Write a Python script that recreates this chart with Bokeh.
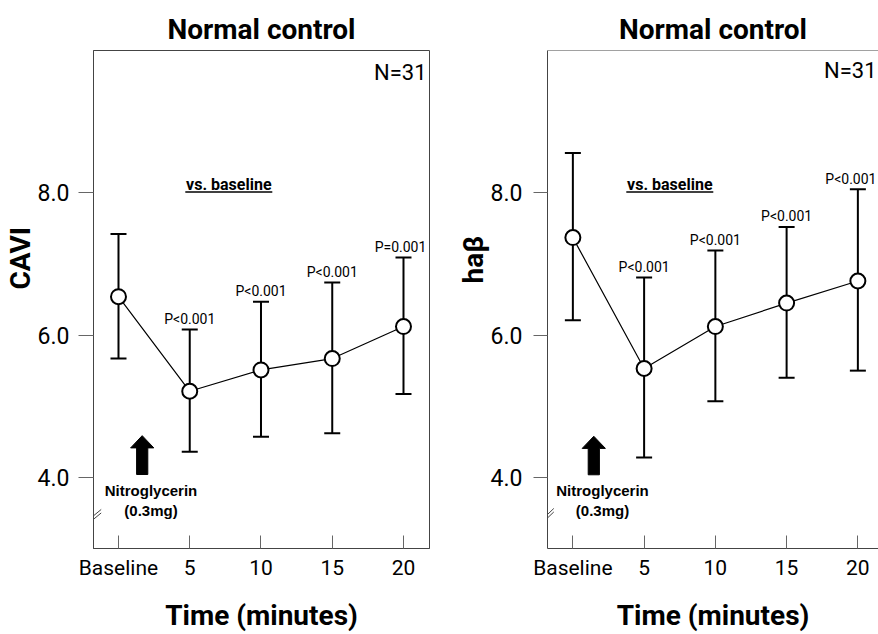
from bokeh.plotting import figure
from bokeh.layouts import row
from bokeh.models import (ColumnDataSource, Whisker, TeeHead, Label, FixedTicker,
                          Range1d, Span, Arrow, CustomJSTickFormatter, Title)
from bokeh.core.properties import value
from bokeh.embed import file_html
from bokeh.resources import INLINE

# ---------------- data ----------------
times = [0, 5, 10, 15, 20]
time_labels = ["Baseline", "5", "10", "15", "20"]

cavi_mean = [6.54, 5.21, 5.51, 5.67, 6.12]
cavi_upper = [7.42, 6.08, 6.47, 6.74, 7.09]
cavi_lower = [5.67, 4.36, 4.57, 4.62, 5.17]
cavi_p = ["", "P<0.001", "P<0.001", "P<0.001", "P=0.001"]

hab_mean = [7.37, 5.53, 6.12, 6.45, 6.76]
hab_upper = [8.56, 6.81, 7.19, 7.52, 8.05]
hab_lower = [6.21, 4.28, 5.07, 5.40, 5.50]
hab_p = ["", "P<0.001", "P<0.001", "P<0.001", "P<0.001"]

y_ticks = [4.0, 6.0, 8.0]
panel_title = "Normal control"
n_label = "N=31"
x_title = "Time (minutes)"
vs_text = "vs. baseline"
drug_lines = ["Nitroglycerin", "(0.3mg)"]

# ---------------- layout constants ----------------
FONT = "Roboto"
FONT2 = "Liberation Sans"
PX_X = 14.25
PX_Y = 500 / 7.0
TOP, FRAME_H, BOTTOM = 50, 500, 84
HEIGHT = TOP + FRAME_H + BOTTOM
FRAME_COL = "#444444"
TICK_COL = "#666666"


def make_panel(ylab, mean, upper, lower, plabels, fig_left_page, border_left,
               frame_w, border_right, x0, outline, lay):
    width = border_left + frame_w + border_right
    x1 = x0 + frame_w / PX_X
    frame_left_page = fig_left_page + border_left
    bx = frame_left_page - x0 * PX_X  # page x of baseline tick

    def X(px):
        return (px - bx) / PX_X

    def Y(py):
        return 10 - (py - TOP) / PX_Y

    p = figure(width=width, height=HEIGHT, x_range=Range1d(x0, x1),
               y_range=Range1d(3.0, 10.0), output_backend="svg",
               toolbar_location=None, min_border_left=border_left,
               min_border_right=border_right, min_border_top=TOP,
               min_border_bottom=BOTTOM)
    p.grid.visible = False
    p.background_fill_color = "white"
    p.border_fill_color = "white"
    if outline:
        p.outline_line_color = FRAME_COL
        p.outline_line_width = 1
    else:
        p.outline_line_color = None
        p.add_layout(Span(location=10.0, dimension="width",
                          line_color=FRAME_COL, line_width=1))

    # title
    p.title.text = panel_title
    p.title.align = "center"
    p.title.text_font = FONT
    p.title.text_font_size = "28px"
    p.title.text_font_style = "bold"
    p.title.text_color = "black"
    p.title.standoff = 9

    # x axis
    p.xaxis.ticker = FixedTicker(ticks=times)
    p.xaxis.major_label_overrides = {t: l for t, l in zip(times, time_labels)}
    p.xaxis.major_tick_in = 13
    p.xaxis.major_tick_out = 0
    p.xaxis.minor_tick_line_color = None
    p.xaxis.major_tick_line_color = TICK_COL
    p.xaxis.axis_line_color = FRAME_COL
    p.xaxis.major_label_standoff = 7
    p.xaxis.major_label_text_font = FONT
    p.xaxis.major_label_text_font_size = "21px"
    p.xaxis.major_label_text_color = "black"
    p.xaxis.axis_label = x_title
    p.xaxis.axis_label_text_font = FONT
    p.xaxis.axis_label_text_font_size = "28px"
    p.xaxis.axis_label_text_font_style = "bold"
    p.xaxis.axis_label_text_color = "black"
    p.xaxis.axis_label_standoff = 16

    # y axis
    p.yaxis.ticker = FixedTicker(ticks=y_ticks)
    p.yaxis.formatter = CustomJSTickFormatter(code="return tick.toFixed(1)")
    p.yaxis.major_tick_in = 0
    p.yaxis.major_tick_out = lay["ytick"]
    p.yaxis.minor_tick_line_color = None
    p.yaxis.major_tick_line_color = TICK_COL
    p.yaxis.axis_line_color = FRAME_COL
    p.yaxis.major_label_standoff = lay["ystand"]
    p.yaxis.major_label_text_font = FONT
    p.yaxis.major_label_text_font_size = "23px"
    p.yaxis.major_label_text_color = "black"

    # y-axis title, outside the tick labels, starting lay["yoff"] px above
    # the bottom of the frame (reads bottom-to-top)
    p.add_layout(Title(text=ylab, align="left", offset=lay["yoff"], standoff=-5,
                       text_font=FONT, text_font_size="28px",
                       text_font_style="bold", text_color="black"), "left")

    src = ColumnDataSource(dict(x=times, mean=mean, upper=upper, lower=lower))
    w = Whisker(source=src, base="x", upper="upper", lower="lower",
                dimension="height", line_width=2, line_color="black",
                upper_head=TeeHead(size=16, line_width=2, line_color="black"),
                lower_head=TeeHead(size=16, line_width=2, line_color="black"))
    w.level = "underlay"
    p.add_layout(w)
    p.line("x", "mean", source=src, line_color="black", line_width=1.2)
    p.scatter("x", "mean", source=src, size=15, fill_color="white",
              line_color="black", line_width=2)

    # p-value labels (cap centre ~10 px above the upper cap)
    idx = [i for i, s in enumerate(plabels) if s]
    psrc = ColumnDataSource(dict(
        x=[times[i] for i in idx],
        y=[upper[i] + 10.5 / PX_Y for i in idx],
        t=[plabels[i] for i in idx],
        dx=[lay["p_shift"][i] for i in idx]))
    p.text("x", "y", text="t", source=psrc, x_offset="dx", text_align="center",
           text_baseline="middle", text_font=value(FONT),
           text_font_size=value("14px"), text_color="black")

    def lab(text, px, py, align="center", size="16px", bold=False, font=FONT):
        p.add_layout(Label(x=X(px), y=Y(py), text=text, text_align=align,
                           text_baseline="middle", text_font=font,
                           text_font_size=size,
                           text_font_style="bold" if bold else "normal",
                           text_color="black"))

    lab(n_label, lay["n"][0], lay["n"][1], align="right", size="22px")
    lab(vs_text, lay["vs"], 184.5, size="16px", bold=True)
    # underline of "vs. baseline"
    p.segment(x0=[X(lay["vs"] - 43.5)], y0=[Y(192.0)],
              x1=[X(lay["vs"] + 43.5)], y1=[Y(192.0)],
              line_color="black", line_width=1.5)
    lab(drug_lines[0], lay["drug"], 491.5, size="15px", bold=True, font=FONT2)
    lab(drug_lines[1], lay["drug"], 511.5, size="15px", bold=True, font=FONT2)

    # block arrow
    cx, tip, hb, base = lay["arrow"]
    sw, hw = 5.6, 11.6
    xs = [X(cx), X(cx + hw), X(cx + sw), X(cx + sw), X(cx - sw), X(cx - sw),
          X(cx - hw)]
    ys = [Y(tip), Y(hb), Y(hb), Y(base), Y(base), Y(hb), Y(hb)]
    p.patch(xs, ys, fill_color="black", line_color="black", line_width=1)

    # axis break marks
    (bx0, by0), (bx1, by1) = lay["brk"]
    for d in (0.0, 3.5):
        p.add_layout(Arrow(x_start=X(bx0), y_start=Y(by0 - d),
                           x_end=X(bx1), y_end=Y(by1 - d), end=None,
                           line_color=FRAME_COL, line_width=1))
    return p


left_lay = dict(n=(426, 72.2), vs=228.3, drug=150.5,
                arrow=(141.7, 436.7, 449.0, 475.7),
                brk=((85, 527.3), (100.7, 514.3)), p_shift=[0, 0, 0, 0, -3],
                ytick=15, ystand=9, yoff=259)
right_lay = dict(n=(876, 69.7), vs=669.3, drug=602,
                 arrow=(593.3, 437.3, 449.5, 476.0),
                 brk=((538.3, 527.7), (553.3, 513.3)), p_shift=[0, 0, 0, 0, -7],
                 ytick=14, ystand=11, yoff=265)

p1 = make_panel("CAVI", cavi_mean, cavi_upper, cavi_lower, cavi_p,
                fig_left_page=0, border_left=93, frame_w=336, border_right=11,
                x0=-1.754, outline=True, lay=left_lay)
p2 = make_panel("haβ", hab_mean, hab_upper, hab_lower, hab_p,
                fig_left_page=440, border_left=107, frame_w=331, border_right=0,
                x0=-1.78, outline=False, lay=right_lay)

layout = row(p1, p2, spacing=0)
open("out.html", "w").write(file_html(layout, INLINE))
